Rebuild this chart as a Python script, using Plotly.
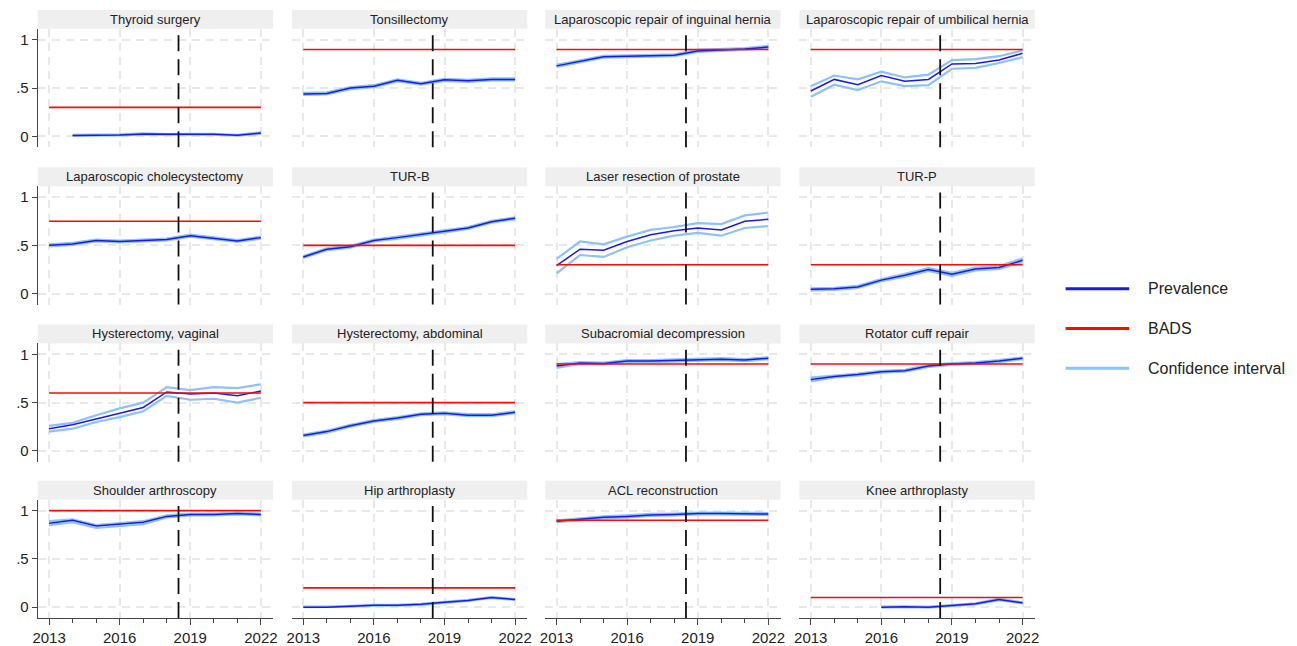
import plotly.graph_objects as go

# ---------------- data ----------------
years = [2013, 2014, 2015, 2016, 2017, 2018, 2019, 2020, 2021, 2022]
N = None

thyroid_prev = [N, .010, .012, .015, .025, .020, .022, .022, .012, .035]
thyroid_lo   = [N, .005, .007, .010, .019, .015, .017, .017, .007, .028]
thyroid_hi   = [N, .015, .017, .020, .031, .025, .027, .027, .017, .042]

tonsil_prev = [.44, .445, .50, .52, .58, .545, .585, .575, .59, .59]
tonsil_lo   = [.43, .435, .49, .51, .57, .535, .575, .565, .58, .58]
tonsil_hi   = [.45, .455, .51, .53, .59, .555, .595, .585, .60, .60]

inguinal_prev = [.73, .78, .825, .83, .835, .84, .885, .895, .905, .925]
inguinal_lo   = [.72, .77, .815, .82, .825, .83, .875, .885, .895, .915]
inguinal_hi   = [.74, .79, .835, .84, .845, .85, .895, .905, .915, .935]

umbilical_prev = [.47, .59, .535, .63, .57, .59, .75, .755, .79, .86]
umbilical_lo   = [.41, .535, .48, .57, .52, .53, .70, .71, .76, .82]
umbilical_hi   = [.52, .63, .59, .67, .61, .64, .79, .80, .83, .89]

chole_prev = [.50, .515, .55, .54, .55, .56, .60, .57, .545, .58]
chole_lo   = [.49, .505, .54, .53, .54, .55, .59, .56, .535, .57]
chole_hi   = [.51, .525, .56, .55, .56, .57, .61, .58, .555, .59]

turb_prev = [.38, .46, .485, .55, .58, .61, .645, .68, .745, .78]
turb_lo   = [.37, .45, .475, .54, .57, .60, .635, .67, .735, .77]
turb_hi   = [.39, .47, .495, .56, .59, .62, .655, .69, .755, .79]

laser_prev = [.29, .46, .45, .54, .61, .65, .68, .66, .75, .77]
laser_lo   = [.21, .40, .38, .48, .55, .60, .63, .60, .68, .70]
laser_hi   = [.36, .54, .51, .59, .66, .69, .73, .72, .81, .84]

turp_prev = [.045, .05, .07, .14, .19, .25, .20, .255, .27, .345]
turp_lo   = [.035, .04, .06, .13, .175, .235, .185, .24, .255, .325]
turp_hi   = [.055, .06, .08, .15, .205, .265, .215, .27, .285, .365]

hystvag_prev = [.23, .27, .33, .39, .45, .61, .59, .60, .57, .62]
hystvag_lo   = [.20, .23, .30, .35, .41, .57, .53, .54, .50, .55]
hystvag_hi   = [.26, .29, .37, .44, .50, .66, .63, .66, .65, .69]

hystabd_prev = [.16, .20, .26, .31, .34, .38, .39, .37, .37, .40]
hystabd_lo   = [.15, .19, .25, .30, .33, .37, .38, .36, .36, .39]
hystabd_hi   = [.17, .21, .27, .32, .35, .39, .40, .38, .38, .41]

subacr_prev = [.88, .91, .905, .93, .93, .935, .94, .95, .94, .96]
subacr_lo   = [.86, .90, .895, .92, .92, .925, .93, .94, .93, .95]
subacr_hi   = [.90, .92, .915, .94, .94, .945, .95, .96, .95, .97]

rotator_prev = [.74, .77, .79, .82, .83, .88, .90, .91, .93, .96]
rotator_lo   = [.72, .76, .78, .81, .82, .87, .89, .90, .92, .95]
rotator_hi   = [.76, .78, .80, .83, .84, .89, .91, .92, .94, .97]

shoulder_prev = [.87, .90, .84, .86, .88, .94, .96, .96, .97, .96]
shoulder_lo   = [.85, .88, .82, .84, .86, .93, .95, .95, .96, .95]
shoulder_hi   = [.89, .91, .85, .87, .89, .95, .97, .97, .98, .97]

hip_prev = [.00, .00, .01, .02, .02, .03, .05, .07, .10, .08]
hip_lo   = [.00, .00, .005, .015, .015, .025, .045, .065, .095, .075]
hip_hi   = [.005, .005, .015, .025, .025, .035, .055, .075, .105, .085]

acl_prev = [.89, .91, .93, .94, .955, .96, .97, .97, .965, .965]
acl_lo   = [.88, .90, .92, .93, .945, .95, .96, .96, .955, .955]
acl_hi   = [.90, .92, .94, .95, .965, .97, .98, .98, .975, .975]

knee_prev = [N, N, N, .00, .005, .00, .02, .035, .08, .045]
knee_lo   = [N, N, N, -.005, .000, -.005, .015, .03, .072, .04]
knee_hi   = [N, N, N, .005, .010, .005, .025, .04, .088, .05]

titles = ["Thyroid surgery", "Tonsillectomy", "Laparoscopic repair of inguinal hernia",
          "Laparoscopic repair of umbilical hernia", "Laparoscopic cholecystectomy", "TUR-B",
          "Laser resection of prostate", "TUR-P", "Hysterectomy, vaginal",
          "Hysterectomy, abdominal", "Subacromial decompression", "Rotator cuff repair",
          "Shoulder arthroscopy", "Hip arthroplasty", "ACL reconstruction", "Knee arthroplasty"]
bads = [0.3, 0.9, 0.9, 0.9, 0.75, 0.5, 0.3, 0.3, 0.6, 0.5, 0.9, 0.9, 1.0, 0.2, 0.9, 0.1]
prevs = [thyroid_prev, tonsil_prev, inguinal_prev, umbilical_prev, chole_prev, turb_prev,
         laser_prev, turp_prev, hystvag_prev, hystabd_prev, subacr_prev, rotator_prev,
         shoulder_prev, hip_prev, acl_prev, knee_prev]
los = [thyroid_lo, tonsil_lo, inguinal_lo, umbilical_lo, chole_lo, turb_lo, laser_lo, turp_lo,
       hystvag_lo, hystabd_lo, subacr_lo, rotator_lo, shoulder_lo, hip_lo, acl_lo, knee_lo]
his = [thyroid_hi, tonsil_hi, inguinal_hi, umbilical_hi, chole_hi, turb_hi, laser_hi, turp_hi,
       hystvag_hi, hystabd_hi, subacr_hi, rotator_hi, shoulder_hi, hip_hi, acl_hi, knee_hi]

cutoff_year = 2018.5
x_ticks = [2013, 2016, 2019, 2022]
y_ticks = [0, 0.5, 1]
y_ticktext = ["0", ".5", "1"]
legend_labels = ["Prevalence", "BADS", "Confidence interval"]

# ---------------- style ----------------
W, H = 1297, 646
BLUE = "#1a1ae8"
RED = "#f20c0c"
LIGHT = "#8cc2f5"
FONT = "Liberation Sans, Arial, sans-serif"
col_left = [33, 289, 544, 800]
row_top = [29, 187, 345, 502]
PW, PH, STRIP = 237, 119, 19

fig = go.Figure()
shapes, annotations = [], []

for i in range(16):
    r, c = divmod(i, 4)
    ax = "" if i == 0 else str(i + 1)
    xa, ya = "x" + ax, "y" + ax
    x0, x1 = col_left[c] / W, (col_left[c] + PW) / W
    y0, y1 = 1 - (row_top[r] + PH) / H, 1 - row_top[r] / H

    for arr in (his[i], los[i]):
        fig.add_trace(go.Scatter(x=years, y=arr, mode="lines", xaxis=xa, yaxis=ya,
                                 line=dict(color=LIGHT, width=2.2), showlegend=False,
                                 hoverinfo="skip"))
    fig.add_trace(go.Scatter(x=years, y=prevs[i], mode="lines", xaxis=xa, yaxis=ya,
                             line=dict(color=BLUE, width=1.5), showlegend=False))
    fig.add_trace(go.Scatter(x=[years[0], years[-1]], y=[bads[i], bads[i]], mode="lines",
                             xaxis=xa, yaxis=ya, line=dict(color=RED, width=1.6),
                             showlegend=False))

    bottom = r == 3
    left = c == 0
    xkey = "xaxis" if i == 0 else "xaxis%d" % (i + 1)
    ykey = "yaxis" if i == 0 else "yaxis%d" % (i + 1)
    fig.layout[xkey] = dict(
        domain=[x0, x1], anchor=ya, range=[2012.52, 2022.52],
        tickvals=x_ticks, showticklabels=bottom,
        ticks="outside" if bottom else "", ticklen=6, tickcolor="#444", tickwidth=1,
        showline=bottom, linecolor="#444", linewidth=1.2,
        minor=dict(ticks="outside" if bottom else "", dtick=1, tick0=2013, ticklen=4,
                   tickcolor="#444", showgrid=False),
        showgrid=True, gridcolor="#e8e8e8", gridwidth=1.5, griddash="8px,6px",
        zeroline=False, tickfont=dict(family=FONT, size=15, color="#222"),
        fixedrange=True)
    fig.layout[ykey] = dict(
        domain=[y0, y1], anchor=xa, range=[-0.113, 1.113],
        tickvals=y_ticks, ticktext=y_ticktext, showticklabels=left,
        ticks="outside" if left else "", ticklen=5, tickcolor="#444", tickwidth=1,
        showline=left, linecolor="#444", linewidth=1.2,
        showgrid=True, gridcolor="#e8e8e8", gridwidth=1.5, griddash="8px,6px",
        zeroline=False, tickfont=dict(family=FONT, size=15, color="#222"),
        fixedrange=True)

    # cutoff line
    shapes.append(dict(type="line", xref=xa, yref=ya + " domain", x0=cutoff_year,
                       x1=cutoff_year, y0=0, y1=1,
                       line=dict(color="#111", width=1.8, dash="16px,8px")))
    # strip
    sy0 = y1
    sy1 = 1 - (row_top[r] - STRIP) / H
    shapes.append(dict(type="rect", xref="paper", yref="paper", x0=x0, x1=x1,
                       y0=sy0, y1=sy1, fillcolor="#efefef", line=dict(width=0),
                       layer="below"))
    annotations.append(dict(xref="paper", yref="paper", x=(x0 + x1) / 2,
                            y=(sy0 + sy1) / 2, text=titles[i], showarrow=False,
                            xanchor="center", yanchor="middle",
                            font=dict(family=FONT, size=13, color="#222")))

# manual legend
leg_colors = [BLUE, RED, LIGHT]
leg_y = [290, 330, 370]
for lab, col, py in zip(legend_labels, leg_colors, leg_y):
    yy = 1 - py / H
    shapes.append(dict(type="line", xref="paper", yref="paper", x0=1068 / W, x1=1132 / W,
                       y0=yy, y1=yy, line=dict(color=col, width=3)))
    annotations.append(dict(xref="paper", yref="paper", x=1149 / W, y=yy, text=lab,
                            showarrow=False, xanchor="left", yanchor="middle",
                            font=dict(family=FONT, size=16, color="#222")))

fig.update_layout(width=W, height=H, margin=dict(l=0, r=0, t=0, b=0),
                  paper_bgcolor="white", plot_bgcolor="white",
                  shapes=shapes, annotations=annotations, showlegend=False,
                  font=dict(family=FONT))

fig.write_html("out.html", config={"displayModeBar": False},
               post_script="document.body.style.margin='0';document.body.style.overflow='hidden';")
